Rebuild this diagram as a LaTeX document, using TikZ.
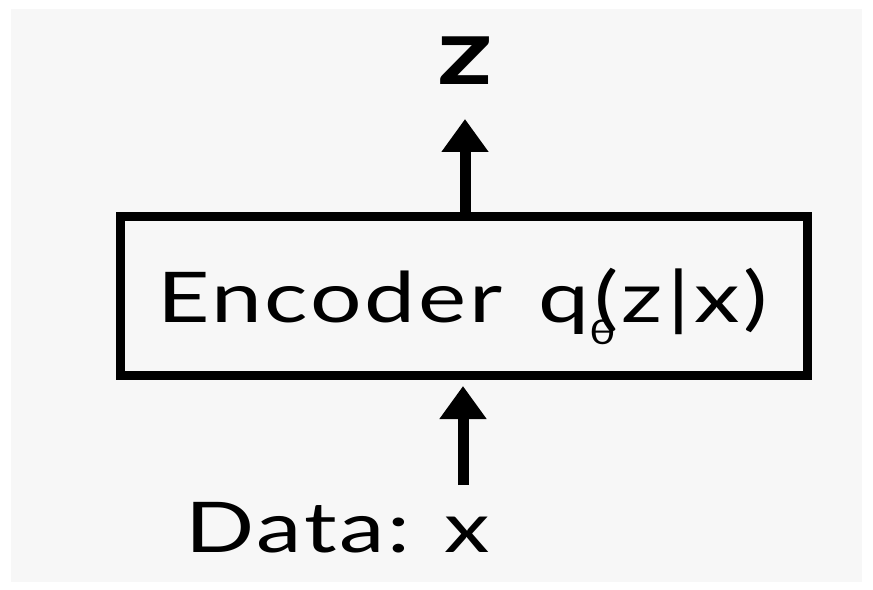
\documentclass[tikz,border=0pt]{standalone}
\usepackage{fontspec}
\setmainfont{Lato}
\newfontfamily\widefont[FakeStretch=1.3, LetterSpace=4]{Lato}
\usetikzlibrary{arrows.meta}
\definecolor{paper}{HTML}{F7F7F7}
\tikzset{
  blockbox/.style={draw=black, line width=9bp, fill=paper, minimum width=686bp,
    minimum height=158bp, inner sep=0pt},
  label/.style={inner sep=0pt, font=\widefont\fontsize{70bp}{80bp}\selectfont},
  flow/.style={line width=11bp, -{Triangle[width=45bp,length=33bp]}},
}
\begin{document}
\begin{tikzpicture}[x=1bp, y=-1bp]
  \useasboundingbox (0,0) rectangle (873,590);
  \fill[white] (0,0) rectangle (873,590);
  \fill[paper] (11,9) rectangle (862,582);

  % encoder block and its caption
  \node[blockbox] (enc) at (464,296) {};
  \node[label, anchor=base west] (enctext) at (157,322)
    {Encoder\kern10bp\ q\rlap{\raisebox{-22bp}{\fontsize{34bp}{36bp}\selectfont θ}}\kern5bp(z\kern5bp|\kern4bp x\kern4bp)};

  % latent output and data input
  \node[inner sep=0pt, font=\widefont\fontsize{93bp}{100bp}\selectfont\bfseries, anchor=base] (z) at (465,85) {z};
  \node[label, anchor=base] (data) at (338,552) {Data: x};

  \coordinate (ztip) at (465,119);
  \coordinate (dtail) at (463,485);
  \coordinate (dtip) at (463,386);

  \draw[flow] (enc.north -| ztip) -- (ztip);
  \draw[flow] (dtail) -- (dtip);
\end{tikzpicture}
\end{document}
